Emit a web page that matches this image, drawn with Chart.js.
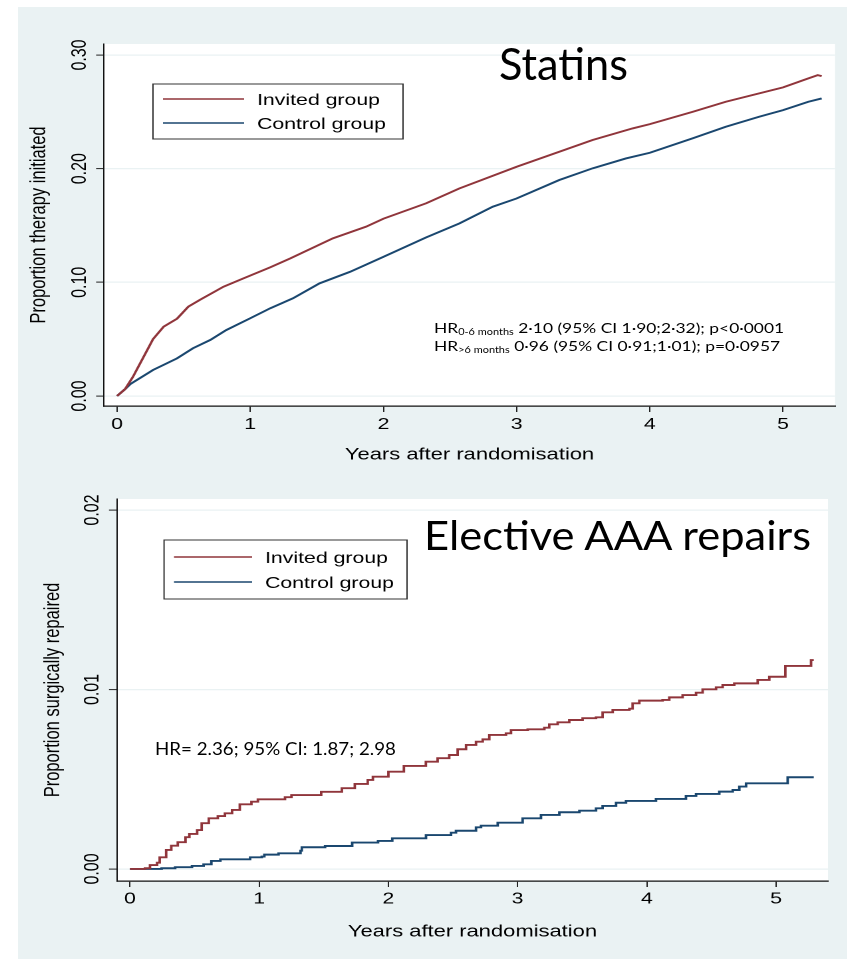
<!DOCTYPE html>
<html>
<head>
<meta charset="utf-8">
<title>Statins and elective AAA repairs</title>
<script src="https://cdn.jsdelivr.net/npm/chart.js@4.4.0/dist/chart.umd.min.js"></script>
<style>
    body { margin: 0; width: 852px; height: 959px; background: #fff; position: relative; overflow: hidden; }
    #bg { position: absolute; left: 18px; top: 7px; width: 829px; height: 952px; background: #eaf2f3; }
    /* the Stata graphs were stretched sideways on the slide */
    .panel { position: absolute; left: 18px; transform: scaleX(1.33); transform-origin: 0 0; }
    #p1 { top: 7px; }
    #p2 { top: 480px; }
    .note { position: absolute; line-height: 0; white-space: nowrap; color: #000;
            font-family: Lato, "Open Sans", sans-serif; transform-origin: 0 0; }
    .note sub { font-size: 8.5px; vertical-align: -2px; line-height: 0; }
</style>
</head>
<body>
<div id="bg"></div>
<div class="panel" id="p1"><canvas id="statinChart" width="623" height="473"></canvas></div>
<div class="panel" id="p2"><canvas id="aaaChart" width="623" height="479"></canvas></div>

<div class="note" data-w="129" style="left:499px; top:62.7px; font-size:44.7px;">Statins</div>
<div class="note" data-w="350" style="left:434px; top:327.8px; font-size:13.5px;">HR<sub>0-6 months</sub> 2·10 (95% CI 1·90;2·32); p&lt;0·0001</div>
<div class="note" data-w="346" style="left:434px; top:345.8px; font-size:13.5px;">HR<sub>&gt;6 months</sub> 0·96 (95% CI 0·91;1·01); p=0·0957</div>
<div class="note" data-w="387" style="left:424px; top:535.3px; font-size:40.5px;">Elective AAA repairs</div>
<div class="note" data-w="241" style="left:155px; top:749.1px; font-size:17.7px;">HR= 2.36; 95% CI: 1.87; 2.98</div>

<script>
// Values (years after randomisation, cumulative proportion)
const seriesLabels = ['Invited group', 'Control group'];
const seriesColors = ['#90353b', '#1a476f'];

const statinYearsInvited = [0, 0.06, 0.12, 0.20, 0.27, 0.35, 0.45, 0.535, 0.62, 0.80, 0.95, 1.15, 1.30, 1.62, 1.87, 2.0,
    2.32, 2.57, 3.0, 3.32, 3.57, 3.87, 4.0, 4.32, 4.57, 5.0, 5.19, 5.26, 5.29];
const statinInvited = [0, 0.006, 0.017, 0.0346, 0.050, 0.061, 0.068, 0.0786, 0.0845, 0.0962, 0.1035, 0.1132, 0.121, 0.1387, 0.149, 0.156,
    0.1695, 0.1826, 0.2017, 0.2149, 0.2252, 0.2354, 0.2392, 0.250, 0.2589, 0.2715, 0.2794, 0.2823, 0.2814];

const statinYearsControl = [0, 0.06, 0.10, 0.27, 0.45, 0.57, 0.70, 0.82, 1.0, 1.15, 1.32, 1.52, 1.75, 2.0, 2.32, 2.57,
    2.82, 3.0, 3.32, 3.57, 3.82, 4.0, 4.32, 4.57, 4.82, 5.0, 5.19, 5.29];
const statinControl = [0, 0.006, 0.0105, 0.0229, 0.0331, 0.042, 0.0493, 0.058, 0.0684, 0.0772, 0.0859, 0.0991, 0.1093, 0.1225, 0.1395, 0.1518,
    0.1665, 0.1738, 0.19, 0.2003, 0.209, 0.214, 0.2266, 0.2369, 0.2457, 0.2515, 0.2589, 0.2618];

const aaaYearsInvited = [0, 0.116, 0.155, 0.21, 0.23, 0.28, 0.32, 0.37, 0.43, 0.46, 0.52, 0.555, 0.61, 0.68, 0.735, 0.79, 0.85,
    0.94, 0.99, 1.20, 1.25, 1.48, 1.64, 1.74, 1.84, 1.88, 2.0, 2.12, 2.29, 2.381, 2.471, 2.536, 2.601, 2.678, 2.730, 2.781,
    2.910, 2.949, 3.078, 3.207, 3.245, 3.310, 3.400, 3.503, 3.607, 3.658, 3.736, 3.865, 3.890, 3.942, 4.122, 4.174,
    4.277, 4.381, 4.432, 4.536, 4.587, 4.677, 4.858, 4.948, 5.072, 5.271, 5.292];
const aaaInvited = [0, 0.00004, 0.00022, 0.00035, 0.00065, 0.00106, 0.0013, 0.00149, 0.00177, 0.00195, 0.00217, 0.00255, 0.00282, 0.00295, 0.0031, 0.00329, 0.0036,
    0.00375, 0.00388, 0.0040, 0.00412, 0.0043, 0.0045, 0.00474, 0.00496, 0.00514, 0.00542, 0.00574, 0.00598, 0.00617, 0.00635, 0.00667, 0.00691, 0.00709, 0.00722, 0.00747,
    0.00756, 0.00774, 0.00778, 0.00787, 0.00806, 0.00817, 0.0083, 0.0084, 0.00845, 0.00873, 0.00886, 0.00893, 0.00923, 0.00938, 0.00942, 0.00956,
    0.00969, 0.00982, 0.01001, 0.01012, 0.01025, 0.01034, 0.01053, 0.01071, 0.01131, 0.01164, 0.01164];

const aaaYearsControl = [0, 0.245, 0.35, 0.48, 0.57, 0.63, 0.70, 0.93, 1.02, 1.04, 1.15, 1.32, 1.33, 1.51, 1.72, 1.92, 2.03,
    2.291, 2.485, 2.523, 2.678, 2.717, 2.846, 3.039, 3.181, 3.323, 3.478, 3.607, 3.658, 3.762, 3.839, 4.071, 4.303,
    4.381, 4.561, 4.665, 4.716, 4.768, 5.090, 5.292];
const aaaControl = [0, 0.00004, 0.0001, 0.00017, 0.00026, 0.00045, 0.00054, 0.00065, 0.00069, 0.0008, 0.00087, 0.00102, 0.00121, 0.00128, 0.00147, 0.00156, 0.00171,
    0.00189, 0.00202, 0.00213, 0.00232, 0.00241, 0.00258, 0.00282, 0.00301, 0.00316, 0.00325, 0.00338, 0.00351, 0.00369, 0.00379, 0.0039, 0.00407,
    0.00418, 0.00431, 0.0044, 0.00459, 0.00477, 0.00511, 0.00511];

const xTickValues = [0, 1, 2, 3, 4, 5];
const xTickLabels = ['0', '1', '2', '3', '4', '5'];
const statinTickValues = [0, 0.1, 0.2, 0.3];
const statinTickLabels = ['0.00', '0.10', '0.20', '0.30'];
const aaaTickValues = [0, 0.01, 0.02];
const aaaTickLabels = ['0.00', '0.01', '0.02'];

const stataFont = '"Liberation Sans", Arial, Helvetica, sans-serif';

function toPoints(xs, ys) {
    return xs.map((x, i) => ({ x: x, y: ys[i] }));
}

// white plot region inside the grey graph region
const plotArea = {
    id: 'plotArea',
    beforeDraw(chart) {
        const { ctx, chartArea: a } = chart;
        ctx.save();
        ctx.fillStyle = '#fff';
        ctx.fillRect(a.left, a.top, a.width, a.height);
        ctx.restore();
    }
};

// Stata writes y labels turned on their side
const sideTicks = {
    id: 'sideTicks',
    afterDraw(chart, args, opts) {
        const s = chart.scales.y;
        const ctx = chart.ctx;
        ctx.save();
        ctx.font = '16px ' + stataFont;
        ctx.fillStyle = '#000';
        ctx.textAlign = 'center';
        ctx.textBaseline = 'middle';
        s.ticks.forEach((t, i) => {
            ctx.save();
            ctx.translate(opts.x, s.getPixelForValue(t.value));
            ctx.rotate(-Math.PI / 2);
            ctx.fillText(opts.labels[i], 0, 0);
            ctx.restore();
        });
        ctx.restore();
    }
};

// boxed legend sitting inside the plot
const boxLegend = {
    id: 'boxLegend',
    afterDatasetsDraw(chart, args, o) {
        const ctx = chart.ctx;
        ctx.save();
        ctx.fillStyle = '#fff';
        ctx.fillRect(o.x, o.y, o.w, o.h);
        ctx.strokeStyle = '#333';
        ctx.lineWidth = 1;
        ctx.strokeRect(o.x, o.y, o.w, o.h);
        ctx.font = '16px ' + stataFont;
        ctx.textBaseline = 'middle';
        chart.data.datasets.forEach((ds, i) => {
            const y = o.rows[i];
            ctx.strokeStyle = ds.borderColor;
            ctx.lineWidth = 1.5;
            ctx.beginPath();
            ctx.moveTo(o.lineFrom, y);
            ctx.lineTo(o.lineTo, y);
            ctx.stroke();
            ctx.fillStyle = '#000';
            ctx.fillText(ds.label, o.textX, y + 1.5);
        });
        ctx.restore();
    }
};

function makeChart(id, c) {
    const datasets = c.series.map((pts, i) => ({
        label: seriesLabels[i],
        data: pts,
        borderColor: seriesColors[i],
        borderWidth: 1.9,
        pointRadius: 0,
        tension: 0,
        stepped: c.stepped
    }));
    return new Chart(document.getElementById(id), {
        type: 'line',
        data: { datasets: datasets },
        plugins: [plotArea, sideTicks, boxLegend],
        options: {
            responsive: false,
            animation: false,
            devicePixelRatio: 2,
            layout: { padding: { top: c.padTop, right: c.padRight, bottom: 0, left: 0 } },
            plugins: {
                legend: { display: false },
                tooltip: { enabled: false },
                sideTicks: { x: c.yLabelX, labels: c.yLabels },
                boxLegend: c.legend
            },
            scales: {
                x: {
                    type: 'linear',
                    min: c.xMin,
                    max: c.xMax,
                    afterBuildTicks: s => { s.ticks = xTickValues.map(v => ({ value: v })); },
                    afterFit: s => { s.height = c.xHeight; },
                    grid: { drawOnChartArea: false, tickLength: 6, tickColor: '#222', tickWidth: 1 },
                    border: { color: '#111', width: 1.3 },
                    ticks: {
                        color: '#000',
                        font: { family: stataFont, size: 16 },
                        padding: c.xTickPad,
                        maxRotation: 0,
                        autoSkip: false,
                        callback: (v, i) => xTickLabels[i]
                    },
                    title: {
                        display: true,
                        text: 'Years after randomisation',
                        color: '#000',
                        font: { family: stataFont, size: 16.5 },
                        padding: { top: 0, bottom: c.xTitlePad }
                    }
                },
                y: {
                    type: 'linear',
                    min: c.yMin,
                    max: c.yMax,
                    afterBuildTicks: s => { s.ticks = c.yTicks.map(v => ({ value: v })); },
                    afterFit: s => { s.width = c.yWidth; },
                    grid: { color: '#eaf2f3', lineWidth: 1.2, tickLength: 6, tickColor: '#222', tickWidth: 1 },
                    border: { color: '#111', width: 1 },
                    ticks: { display: false },
                    title: {
                        display: true,
                        text: c.yTitle,
                        color: '#000',
                        font: { family: stataFont, size: 16.5 },
                        padding: { top: c.yTitlePad, bottom: 0 }
                    }
                }
            }
        }
    });
}

makeChart('statinChart', {
    series: [toPoints(statinYearsInvited, statinInvited), toPoints(statinYearsControl, statinControl)],
    stepped: false,
    padTop: 37, padRight: 8.7,
    xMin: -0.0976, xMax: 5.390, xHeight: 74, xTickPad: 3, xTitlePad: 15,
    yMin: -0.0088, yMax: 0.30967, yTicks: statinTickValues, yWidth: 64.7,
    yTitle: 'Proportion therapy initiated', yTitlePad: 5.9,
    yLabelX: 46.5, yLabels: statinTickLabels,
    legend: { x: 101.5, y: 77, w: 188, h: 55, rows: [92, 116], lineFrom: 109, lineTo: 170, textX: 179.7 }
});

makeChart('aaaChart', {
    series: [toPoints(aaaYearsInvited, aaaInvited), toPoints(aaaYearsControl, aaaControl)],
    stepped: true,
    padTop: 19, padRight: 14,
    xMin: -0.1006, xMax: 5.402, xHeight: 78, xTickPad: 2.5, xTitlePad: 17,
    yMin: -0.00067, yMax: 0.020613, yTicks: aaaTickValues, yWidth: 74.4,
    yTitle: 'Proportion surgically repaired', yTitlePad: 16.4,
    yLabelX: 56, yLabels: aaaTickLabels,
    legend: { x: 109.8, y: 60, w: 182.7, h: 59, rows: [77, 102], lineFrom: 117.3, lineTo: 176, textX: 185.7 }
});

// squeeze the slide annotations to the width they have in the picture
document.querySelectorAll('.note').forEach(el => {
    const w = el.getBoundingClientRect().width;
    el.style.transform = 'scaleX(' + (Number(el.dataset.w) / w).toFixed(3) + ')';
});
</script>
</body>
</html>
